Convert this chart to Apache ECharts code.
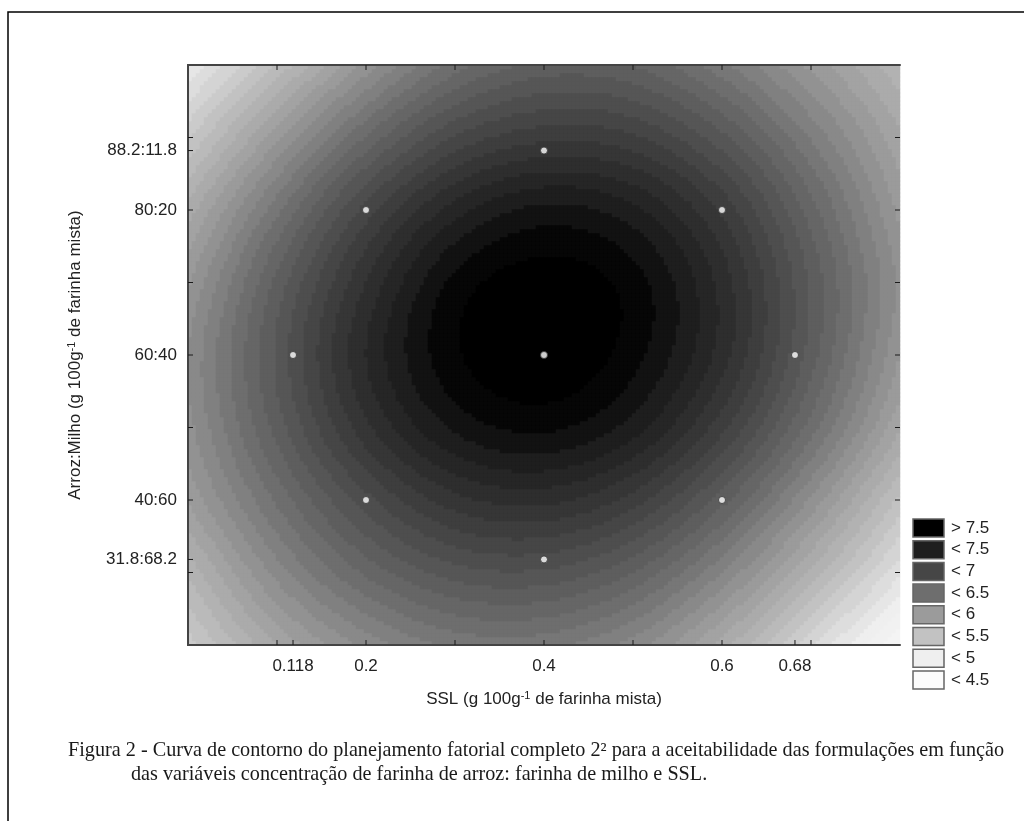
<!DOCTYPE html>
<html><head><meta charset="utf-8">
<script src="https://cdn.jsdelivr.net/npm/echarts@6/dist/echarts.min.js"></script>
<style>html,body{margin:0;padding:0;background:#fff}#c{width:1024px;height:821px}</style>
</head><body><div id="c"></div>
<script>
// ---- data ----
// design points of the central composite plan (white dots)
const sslPoints = [0.2, 0.6, 0.2, 0.6, 0.118, 0.682, 0.4, 0.4, 0.4];
const arrozPoints = [80, 80, 40, 40, 60, 60, 31.8, 88.2, 60];

// acceptability surface read from the shading on a lattice (SSL columns x Arroz rows)
const gridSSL = [0, 0.1, 0.2, 0.3, 0.4, 0.5, 0.6, 0.7, 0.8];
const gridArroz = [20, 30, 40, 50, 60, 70, 80, 90, 100];
const row20  = [5.15, 5.60, 5.93, 6.12, 6.13, 5.95, 5.55, 5.02, 4.50];
const row30  = [5.42, 5.94, 6.32, 6.55, 6.58, 6.40, 6.00, 5.47, 4.92];
const row40  = [5.71, 6.22, 6.66, 6.96, 7.03, 6.85, 6.44, 5.88, 5.27];
const row50  = [5.86, 6.44, 6.97, 7.32, 7.42, 7.25, 6.83, 6.25, 5.61];
const row60  = [5.90, 6.52, 7.10, 7.48, 7.59, 7.44, 7.05, 6.45, 5.80];
const row70  = [5.78, 6.43, 7.00, 7.43, 7.56, 7.45, 7.06, 6.48, 5.87];
const row80  = [5.54, 6.17, 6.74, 7.15, 7.33, 7.23, 6.88, 6.35, 5.77];
const row90  = [5.18, 5.77, 6.31, 6.71, 6.87, 6.82, 6.53, 6.09, 5.62];
const row100 = [4.80, 5.31, 5.83, 6.24, 6.43, 6.39, 6.13, 5.77, 5.42];
const surfaceRows = [row20, row30, row40, row50, row60, row70, row80, row90, row100];

const xTickValues = [0.118, 0.2, 0.4, 0.6, 0.682];
const xTickLabels = ['0.118', '0.2', '0.4', '0.6', '0.68'];
const xMinorTicks = [0.1, 0.3, 0.5, 0.7];
const xTopTicks = [0.1, 0.2, 0.3, 0.4, 0.5, 0.6, 0.7];
const yTickValues = [31.8, 40, 60, 80, 88.2];
const yTickLabels = ['31.8:68.2', '40:60', '60:40', '80:20', '88.2:11.8'];
const yMinorTicks = [30, 50, 70, 90];
const yRightTicks = [30, 40, 50, 60, 70, 80, 90];

const legendLabels = ['> 7.5', '< 7.5', '< 7', '< 6.5', '< 6', '< 5.5', '< 5', '< 4.5'];
const legendColors = ['#000000', '#1e1e1e', '#464646', '#6e6e6e', '#9b9b9b', '#c2c2c2', '#efefef', '#fbfbfb'];
const legendLevels = [7.5, 7, 6.5, 6, 5.5, 5, 4.5];
const bandStep = 0.1;

const xTitle = 'SSL (g 100g{sup|-1} de farinha mista)';
const yTitle = 'Arroz:Milho (g 100g{sup|-1} de farinha mista)';
const captionLine1 = 'Figura 2 - Curva de contorno do planejamento fatorial completo 2² para a aceitabilidade das formulações em função';
const captionLine2 = 'das variáveis concentração de farinha de arroz: farinha de milho e SSL.';

// ---- smooth (Catmull-Rom) rendering of the lattice ----
function node(r, c) {
  const nr = surfaceRows.length, nc = gridSSL.length;
  if (r < 0) return 2 * node(0, c) - node(1, c);
  if (r >= nr) return 2 * node(nr - 1, c) - node(nr - 2, c);
  if (c < 0) return 2 * node(r, 0) - node(r, 1);
  if (c >= nc) return 2 * node(r, nc - 1) - node(r, nc - 2);
  return surfaceRows[r][c];
}
function cr(p0, p1, p2, p3, t) {
  return 0.5 * (2 * p1 + (-p0 + p2) * t + (2 * p0 - 5 * p1 + 4 * p2 - p3) * t * t + (-p0 + 3 * p1 - 3 * p2 + p3) * t * t * t);
}
function surface(s, a) {
  const u = (s - gridSSL[0]) / (gridSSL[1] - gridSSL[0]);
  const w = (a - gridArroz[0]) / (gridArroz[1] - gridArroz[0]);
  const c = Math.min(Math.max(Math.floor(u), 0), gridSSL.length - 2), tc = u - c;
  const r = Math.min(Math.max(Math.floor(w), 0), gridArroz.length - 2), tr = w - r;
  const rowVals = [];
  for (let k = -1; k <= 2; k++) rowVals.push(cr(node(r + k, c - 1), node(r + k, c), node(r + k, c + 1), node(r + k, c + 2), tc));
  return cr(rowVals[0], rowVals[1], rowVals[2], rowVals[3], tr);
}

const X_MIN = 0, X_MAX = 0.8, Y_MIN = 20, Y_MAX = 100;
const NX = 178, NY = 145;
const xCats = [], yCats = [], cells = [];
for (let i = 0; i < NX; i++) xCats.push(i);
for (let j = 0; j < NY; j++) yCats.push(j);
for (let i = 0; i < NX; i++) for (let j = 0; j < NY; j++) {
  const s = X_MIN + (i + 0.5) / NX * (X_MAX - X_MIN);
  const a = Y_MIN + (j + 0.5) / NY * (Y_MAX - Y_MIN);
  cells.push([i, j, surface(s, a)]);
}

// fine shading bands between the legend levels
function gray(hex) { return parseInt(hex.slice(1, 3), 16); }
const anchors = [[legendLevels[0], 0]];
for (let k = 1; k < legendColors.length; k++) anchors.push([legendLevels[0] - (k - 0.5) * 0.5, gray(legendColors[k])]);
function grayFor(m) {
  if (m >= anchors[0][0]) return 0;
  for (let k = 0; k < anchors.length - 1; k++) {
    const [v0, g0] = anchors[k], [v1, g1] = anchors[k + 1];
    if (m <= v0 && m >= v1) return g0 + (g1 - g0) * (v0 - m) / (v0 - v1);
  }
  return anchors[anchors.length - 1][1];
}
function toHex(g) { const h = Math.round(Math.max(0, Math.min(255, g))).toString(16).padStart(2, '0'); return '#' + h + h + h; }
const pieces = [{ gte: legendLevels[0], color: legendColors[0] }];
for (let k = 0; k < 50; k++) {
  const hi = Math.round((legendLevels[0] - k * bandStep) * 1000) / 1000;
  const lo = Math.round((hi - bandStep) * 1000) / 1000;
  if (k === 49) pieces.push({ lt: hi, color: toHex(grayFor(lo)) });
  else pieces.push({ gte: lo, lt: hi, color: toHex(grayFor((lo + hi) / 2)) });
}

// tick marks (inside the frame) : [value, side]  side 0=bottom 1=top 2=left 3=right
const tickData = [];
xTickValues.concat(xMinorTicks).forEach(v => tickData.push([v, 0]));
xTopTicks.forEach(v => tickData.push([v, 1]));
yTickValues.concat(yMinorTicks).forEach(v => tickData.push([v, 2]));
yRightTicks.forEach(v => tickData.push([v, 3]));

const GL = 188, GT = 65, GW = 712, GH = 580;
const FONT = 'Liberation Sans';
const TICK_LEN = 5;
const frame = { show: true, lineStyle: { color: '#444', width: 2 } };

const graphics = [
  { type: 'rect', shape: { x: 8, y: 12, width: 1100, height: 900 }, style: { fill: 'none', stroke: '#000', lineWidth: 1.5 }, silent: true },
  { type: 'text', x: 544, y: 699, style: { text: xTitle, fontFamily: FONT, fontSize: 17, fill: '#222', align: 'center', verticalAlign: 'middle',
      rich: { sup: { fontSize: 11, verticalAlign: 'top', fill: '#222', fontFamily: FONT } } } },
  { type: 'text', x: 75, y: 355, rotation: Math.PI / 2, style: { text: yTitle, fontFamily: FONT, fontSize: 17, fill: '#222', align: 'center', verticalAlign: 'middle',
      rich: { sup: { fontSize: 11, verticalAlign: 'top', fill: '#222', fontFamily: FONT } } } },
  { type: 'text', x: 68, y: 751, style: { text: captionLine1, fontFamily: 'Liberation Serif', fontSize: 20.2, fill: '#1a1a1a', align: 'left', verticalAlign: 'middle' } },
  { type: 'text', x: 131, y: 775, style: { text: captionLine2, fontFamily: 'Liberation Serif', fontSize: 20.2, fill: '#1a1a1a', align: 'left', verticalAlign: 'middle' } }
];
legendLabels.forEach((lab, k) => {
  const y = 519 + k * 21.7;
  graphics.push({ type: 'rect', shape: { x: 913, y: y, width: 31, height: 18 }, style: { fill: legendColors[k], stroke: '#666', lineWidth: 1.5 } });
  graphics.push({ type: 'text', x: 951, y: y + 9, style: { text: lab, fontFamily: FONT, fontSize: 17, fill: '#222', align: 'left', verticalAlign: 'middle' } });
});

const chart = echarts.init(document.getElementById('c'), null, { renderer: 'canvas' });
chart.setOption({
  animation: false,
  backgroundColor: '#fff',
  grid: { left: GL, top: GT, width: GW, height: GH, containLabel: false },
  xAxis: [
    { type: 'value', position: 'bottom', min: X_MIN, max: X_MAX, z: 6, axisLine: frame, splitLine: { show: false }, axisTick: { show: false },
      axisLabel: { customValues: xTickValues, margin: 13, fontFamily: FONT, fontSize: 17, color: '#222',
        formatter: v => xTickLabels[xTickValues.findIndex(t => Math.abs(t - v) < 1e-6)] || '' } },
    { type: 'value', position: 'top', min: X_MIN, max: X_MAX, z: 6, axisLine: frame, splitLine: { show: false }, axisTick: { show: false }, axisLabel: { show: false } },
    { type: 'category', data: xCats, show: false }
  ],
  yAxis: [
    { type: 'value', position: 'left', min: Y_MIN, max: Y_MAX, z: 6, axisLine: frame, splitLine: { show: false }, axisTick: { show: false },
      axisLabel: { customValues: yTickValues, margin: 11, fontFamily: FONT, fontSize: 17, color: '#222',
        formatter: v => yTickLabels[yTickValues.findIndex(t => Math.abs(t - v) < 1e-6)] || '' } },
    { type: 'value', position: 'right', min: Y_MIN, max: Y_MAX, z: 6, axisLine: frame, splitLine: { show: false }, axisTick: { show: false }, axisLabel: { show: false } },
    { type: 'category', data: yCats, show: false }
  ],
  visualMap: [{ type: 'piecewise', show: false, seriesIndex: 0, dimension: 2, pieces: pieces }],
  series: [
    { type: 'heatmap', xAxisIndex: 2, yAxisIndex: 2, data: cells, progressive: 0, silent: true, emphasis: { disabled: true }, itemStyle: { borderWidth: 0 } },
    { type: 'scatter', xAxisIndex: 0, yAxisIndex: 0, z: 8, symbol: 'circle', symbolSize: 7, silent: true,
      itemStyle: { color: '#ffffff', borderColor: '#333', borderWidth: 1 },
      data: sslPoints.map((s, i) => [s, arrozPoints[i]]) },
    { type: 'custom', xAxisIndex: 0, yAxisIndex: 0, z: 9, silent: true, clip: false, data: tickData,
      encode: { x: -1, y: -1 },
      renderItem: (params, api) => {
        const v = api.value(0), side = api.value(1), cs = params.coordSys;
        let x1, y1, x2, y2;
        if (side <= 1) {
          const px = api.coord([v, Y_MIN])[0];
          const yEdge = side === 0 ? cs.y + cs.height : cs.y;
          x1 = x2 = px; y1 = yEdge; y2 = side === 0 ? yEdge - TICK_LEN : yEdge + TICK_LEN;
        } else {
          const py = api.coord([X_MIN, v])[1];
          const xEdge = side === 2 ? cs.x : cs.x + cs.width;
          y1 = y2 = py; x1 = xEdge; x2 = side === 2 ? xEdge + TICK_LEN : xEdge - TICK_LEN;
        }
        return { type: 'line', shape: { x1, y1, x2, y2 }, style: { stroke: '#1a1a1a', lineWidth: 1 } };
      } }
  ],
  graphic: graphics
});
</script></body></html>
